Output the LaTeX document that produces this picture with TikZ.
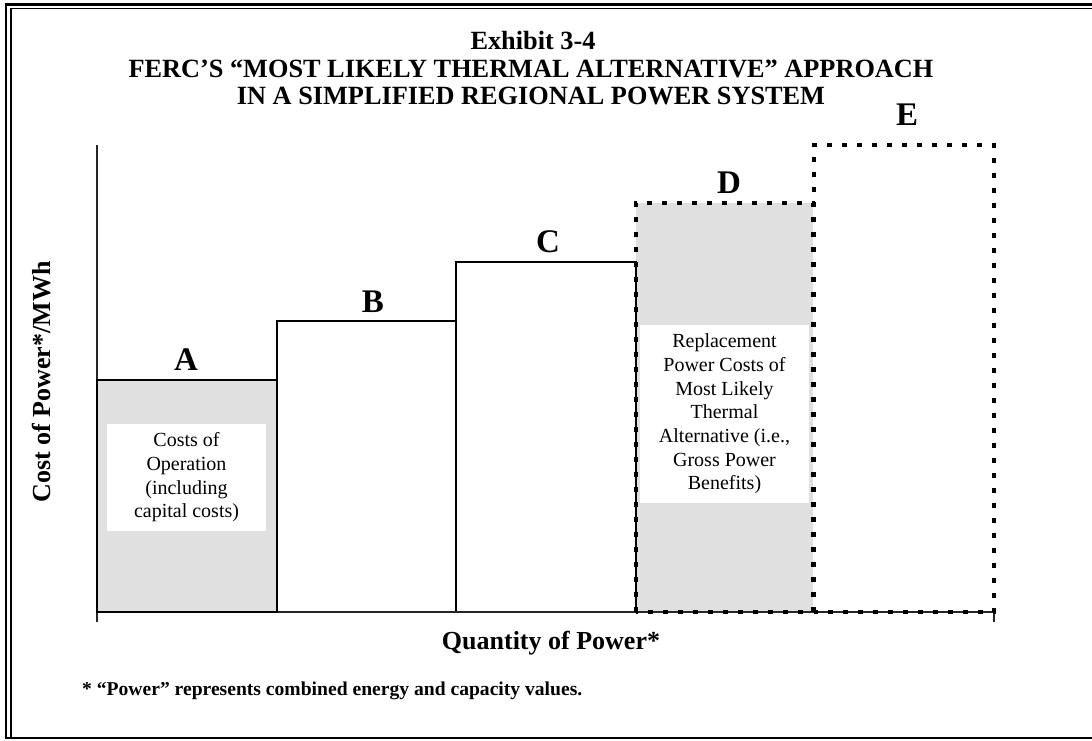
\documentclass[tikz,border=0pt]{standalone}
\usepackage{fontspec}
\setmainfont{Liberation Serif}
\definecolor{boxgray}{RGB}{224,224,224}
\begin{document}
\begin{tikzpicture}[x=1pt,y=-1pt,
  thinbar/.style={draw=black,line width=1.2pt},
  thickbar/.style={draw=black,line width=2.5pt},
  axisline/.style={draw=black!85,line width=1.3pt},
  dotbox/.style={draw=black,line width=3.2pt,dash pattern=on 5pt off 10pt},
  titletxt/.style={font=\fontsize{26.3}{30}\selectfont\bfseries,anchor=base,inner sep=0pt},
  barlbl/.style={font=\fontsize{33}{36}\selectfont\bfseries,anchor=base,inner sep=0pt},
  axislbl/.style={font=\fontsize{26}{30}\selectfont\bfseries,inner sep=0pt},
  boxtxt/.style={font=\fontsize{20}{23.7}\selectfont,align=center,inner sep=0pt}]
\useasboundingbox (0,0) rectangle (1092,740);
% frame
\draw[line width=2.5pt] (1092,4.7) -- (6,4.7) -- (6,738);
\draw[line width=1.5pt] (1092,8.5) -- (11,8.5) -- (11,738);
\draw[line width=2pt] (5,738) -- (1092,738);
% fills
\fill[boxgray] (97,380) rectangle (277,612);
\fill[boxgray] (636,203) rectangle (813,612);
\fill[white] (107,424) rectangle (266,531);
\fill[white] (640,325) rectangle (809,503);
% bars B and C
\draw[thinbar] (277,612) -- (277,321) -- (456,321) -- (456,612);
\draw[thinbar] (456,612) -- (456,262) -- (636,262) -- (636,612);
% axes
\draw[axisline] (97,145) -- (97,622);
\draw[axisline] (97,612) -- (994,612) -- (994,622);
% bar A
\draw[thickbar] (97,380) rectangle (277,612);
% dotted bars D and E
\draw[dotbox] (636,612) -- (636,203) -- (813,203) -- (813,612) -- cycle;
\draw[dotbox] (814,612) -- (814,145) -- (994,145) -- (994,612) -- cycle;
% titles
\node[titletxt] (t1) at (533,49) {Exhibit 3-4};
\node[titletxt] (t2) at (531,77) {FERC’S “MOST LIKELY THERMAL ALTERNATIVE” APPROACH};
\node[titletxt] (t3) at (531,104) {IN A SIMPLIFIED REGIONAL POWER SYSTEM};
% bar labels
\node[barlbl] (la) at (186,370) {A};
\node[barlbl] (lb) at (373,312) {B};
\node[barlbl] (lc) at (548,252) {C};
\node[barlbl] (ld) at (729,193) {D};
\node[barlbl] (le) at (907,125) {E};
% box texts
\node[boxtxt] (ta) at (186.5,477.5) {Costs of\\Operation\\(including\\capital costs)};
\node[boxtxt] (td) at (724.5,414) {Replacement\\Power Costs of\\Most Likely\\Thermal\\Alternative (i.e.,\\Gross Power\\Benefits)};
% axis labels
\node[axislbl,rotate=90] (yl) at (42,382) {Cost of Power*/MWh};
\node[axislbl,anchor=base] (xl) at (551,649) {Quantity of Power*};
\node[font=\fontsize{19.6}{22}\selectfont\bfseries,anchor=base west,inner sep=0pt] (fn) at (82,695) {* “Power” represents combined energy and capacity values.};
\end{tikzpicture}
\end{document}
